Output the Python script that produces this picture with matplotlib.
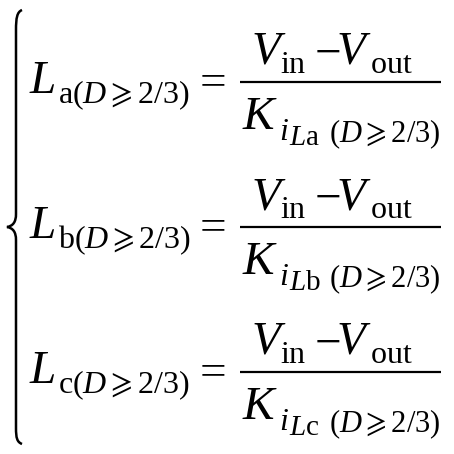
import matplotlib
matplotlib.use("Agg")
import matplotlib.pyplot as plt
from matplotlib.path import Path
from matplotlib.patches import PathPatch

plt.rcParams["mathtext.fontset"] = "custom"
plt.rcParams["mathtext.rm"] = "Liberation Serif"
plt.rcParams["mathtext.it"] = "Liberation Serif:italic"
plt.rcParams["mathtext.bf"] = "Liberation Serif:bold"
plt.rcParams["mathtext.fallback"] = "stix"

# the three rows of the system
phases = ["a", "b", "c"]
bar_y = [82, 227, 372]
cond = r"(D\geqslant 2/3)"

W, H = 454, 454
fig = plt.figure(figsize=(W / 100, H / 100), dpi=100)
ax = fig.add_axes([0, 0, 1, 1])
ax.set_xlim(0, W)
ax.set_ylim(H, 0)
ax.axis("off")

big = 34
small = 23
tiny = 21


def put(x, y, s, size, va="baseline"):
    ax.text(x, y, s, fontsize=size, ha="left", va=va)


for ph, y0 in zip(phases, bar_y):
    # left side
    put(29, y0 + 11, r"$L$", big)
    put(58, y0 + 21, r"$\mathrm{%s}%s$" % (ph, cond), small)
    put(193, y0, r"$=$", big, va="center")

    # numerator
    ax.plot([240, 441], [y0, y0], color="black", lw=1.6, solid_capstyle="butt")
    put(251, y0 - 18, r"$V$", big)
    put(280, y0 - 9, r"$\mathrm{in}$", small)
    put(314, y0 - 29, r"$-$", big, va="center")
    put(336, y0 - 18, r"$V$", big)
    put(370, y0 - 9, r"$\mathrm{out}$", small)

    # denominator
    put(242, y0 + 47, r"$K$", big)
    put(279, y0 + 58, r"$i$", small)
    put(289, y0 + 63, r"$L\mathrm{%s}$" % ph, tiny)
    put(329, y0 + 60, r"$%s$" % cond, small - 1)

# left brace
verts = [
    (22, 10), (17, 12), (16, 18), (16, 30),
    (16, 214),
    (16, 222), (13, 226), (7, 227),
    (13, 228), (16, 232), (16, 240),
    (16, 428),
    (16, 438), (17, 442), (22, 444),
]
codes = [Path.MOVETO, Path.CURVE4, Path.CURVE4, Path.CURVE4,
         Path.LINETO,
         Path.CURVE4, Path.CURVE4, Path.CURVE4,
         Path.CURVE4, Path.CURVE4, Path.CURVE4,
         Path.LINETO,
         Path.CURVE4, Path.CURVE4, Path.CURVE4]
ax.add_patch(PathPatch(Path(verts, codes), fill=False, lw=1.8, color="black"))

fig.savefig("out.png", dpi=100)
